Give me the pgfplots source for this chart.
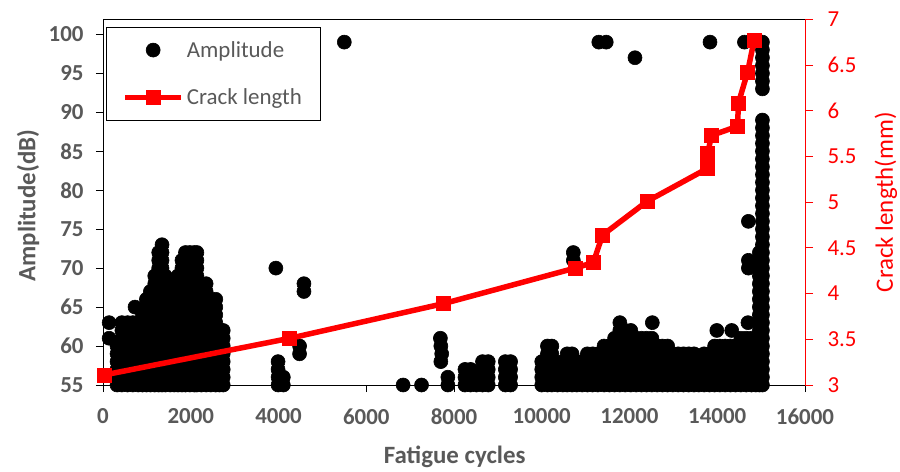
\documentclass[border=0pt]{standalone}
\usepackage{fontspec}
\setmainfont{Carlito}
\usepackage{pgfplots}
\pgfplotsset{compat=1.18}
\definecolor{txtgray}{RGB}{89,89,89}
\begin{document}
\begin{tikzpicture}
\begin{axis}[
  name=main,
  scale only axis, width=702bp, height=365.7bp,
  xmin=0, xmax=16000, ymin=55, ymax=101.93,
  xtick={0,2000,...,16000}, ytick={55,60,...,100},
  scaled x ticks=false,
  /pgf/number format/1000 sep={},
  /pgf/number format/assume math mode=true,
  tick align=outside, xtick pos=bottom, ytick pos=left,
  major tick length=7bp,
  tick style={black, line width=0.8bp},
  axis line style={black, line width=0.8bp},
  ticklabel style={font=\fontsize{23}{27}\selectfont\bfseries, text=txtgray},
  yticklabel style={xshift=-9bp},
  xticklabel style={yshift=-13bp},
  xlabel={Fatigue cycles}, ylabel={Amplitude(dB)},
  xlabel style={at={(axis description cs:0.501,-0.196)}, anchor=center, font=\fontsize{25}{30}\selectfont\bfseries, text=txtgray},
  ylabel style={at={(axis description cs:-0.1068,0.49)}, anchor=center, rotate=0, font=\fontsize{25}{30}\selectfont\bfseries, text=txtgray},
  clip=false,
  legend image code/.code={\draw[mark repeat=2,mark phase=2,#1] plot coordinates {(0bp,0bp)(28bp,0bp)(56bp,0bp)};},
  legend style={at={(0.0043,0.979)}, anchor=north west, draw=black, line width=0.8bp,
    font=\fontsize{23}{27}\selectfont, text=txtgray, inner xsep=16bp, inner ysep=12bp,
    row sep=26bp, nodes={inner xsep=3bp, inner ysep=2bp}},
  legend cell align=left,
]
\addplot[only marks, mark=*, mark size=7bp, black, mark options={line width=0.6bp}] coordinates {
(140,61)(140,63)
(320,55)(320,56)(320,57)(320,58)(320,59)(320,60)
(430,55)(430,56)(430,57)(430,58)(430,59)(430,60)(430,61)(430,62)(430,63)
(560,55)(560,56)(560,57)(560,58)(560,59)(560,60)(560,61)(560,62)(560,63)
(680,55)(680,56)(680,57)(680,58)(680,59)(680,60)(680,61)(680,62)(680,63)
(730,65)
(800,55)(800,56)(800,57)(800,58)(800,59)(800,60)(800,61)(800,62)(800,63)
(900,55)(900,56)(900,57)(900,58)(900,59)(900,60)(900,61)(900,62)(900,63)(900,64)
(990,55)(990,56)(990,57)(990,58)(990,59)(990,60)(990,61)(990,62)(990,63)(990,64)(990,65)(990,66)
(1080,55)(1080,56)(1080,57)(1080,58)(1080,59)(1080,60)(1080,61)(1080,62)(1080,63)(1080,64)(1080,65)(1080,66)(1080,67)
(1180,55)(1180,56)(1180,57)(1180,58)(1180,59)(1180,60)(1180,61)(1180,62)(1180,63)(1180,64)(1180,65)(1180,66)(1180,67)(1180,68)(1180,69)
(1270,55)(1270,56)(1270,57)(1270,58)(1270,59)(1270,60)(1270,61)(1270,62)(1270,63)(1270,64)(1270,65)(1270,66)(1270,67)(1270,68)(1270,69)(1270,70)(1270,71)(1270,72)
(1345,55)(1345,56)(1345,57)(1345,58)(1345,59)(1345,60)(1345,61)(1345,62)(1345,63)(1345,64)(1345,65)(1345,66)(1345,67)(1345,68)(1345,69)(1345,70)(1345,71)(1345,72)(1345,73)
(1420,55)(1420,56)(1420,57)(1420,58)(1420,59)(1420,60)(1420,61)(1420,62)(1420,63)(1420,64)(1420,65)(1420,66)(1420,67)(1420,68)(1420,69)
(1530,55)(1530,56)(1530,57)(1530,58)(1530,59)(1530,60)(1530,61)(1530,62)(1530,63)(1530,64)(1530,65)(1530,66)(1530,67)(1530,68)
(1620,55)(1620,56)(1620,57)(1620,58)(1620,59)(1620,60)(1620,61)(1620,62)(1620,63)(1620,64)(1620,65)(1620,66)(1620,67)(1620,68)
(1710,55)(1710,56)(1710,57)(1710,58)(1710,59)(1710,60)(1710,61)(1710,62)(1710,63)(1710,64)(1710,65)(1710,66)(1710,67)(1710,68)(1710,69)
(1800,55)(1800,56)(1800,57)(1800,58)(1800,59)(1800,60)(1800,61)(1800,62)(1800,63)(1800,64)(1800,65)(1800,66)(1800,67)(1800,68)(1800,69)(1800,70)(1800,71)
(1880,55)(1880,56)(1880,57)(1880,58)(1880,59)(1880,60)(1880,61)(1880,62)(1880,63)(1880,64)(1880,65)(1880,66)(1880,67)(1880,68)(1880,69)(1880,70)(1880,71)(1880,72)
(1980,55)(1980,56)(1980,57)(1980,58)(1980,59)(1980,60)(1980,61)(1980,62)(1980,63)(1980,64)(1980,65)(1980,66)(1980,67)(1980,68)(1980,69)(1980,70)(1980,71)(1980,72)
(2080,55)(2080,56)(2080,57)(2080,58)(2080,59)(2080,60)(2080,61)(2080,62)(2080,63)(2080,64)(2080,65)(2080,66)(2080,67)(2080,68)(2080,69)(2080,70)(2080,71)(2080,72)
(2140,55)(2140,56)(2140,57)(2140,58)(2140,59)(2140,60)(2140,61)(2140,62)(2140,63)(2140,64)(2140,65)(2140,66)(2140,67)(2140,68)(2140,69)(2140,70)(2140,71)(2140,72)
(2240,55)(2240,56)(2240,57)(2240,58)(2240,59)(2240,60)(2240,61)(2240,62)(2240,63)(2240,64)(2240,65)(2240,66)(2240,67)(2240,68)
(2350,55)(2350,56)(2350,57)(2350,58)(2350,59)(2350,60)(2350,61)(2350,62)(2350,63)(2350,64)(2350,65)(2350,66)(2350,67)(2350,68)
(2460,55)(2460,56)(2460,57)(2460,58)(2460,59)(2460,60)(2460,61)(2460,62)(2460,63)(2460,64)(2460,65)(2460,66)
(2570,55)(2570,56)(2570,57)(2570,58)(2570,59)(2570,60)(2570,61)(2570,62)(2570,63)(2570,64)(2570,65)(2570,66)
(2660,55)(2660,56)(2660,57)(2660,58)(2660,59)(2660,60)(2660,61)(2660,62)
(2740,55)(2740,56)(2740,57)(2740,58)(2740,59)(2740,60)(2740,61)(2740,62)
(3940,70)(3990,55)(3990,56)(3990,57)(3990,58)(4110,55)(4110,56)
(4480,59)(4480,60)(4580,67)(4580,68)
(5500,99)
(6840,55)(7260,55)
(7700,58)(7720,59)(7700,60)(7690,61)(7860,55)(7860,56)
(8250,55)(8250,56)(8250,57)(8380,55)(8380,56)(8380,57)(8510,55)(8510,56)
(8650,55)(8650,56)(8650,57)(8650,58)(8780,55)(8780,56)(8780,57)(8780,58)
(9170,55)(9170,56)(9170,57)(9170,58)(9290,55)(9290,56)(9290,57)(9290,58)
(10000,55)(10000,56)(10000,57)(10000,58)
(10130,55)(10130,56)(10130,57)(10130,58)(10130,59)(10130,60)
(10230,55)(10230,56)(10230,57)(10230,58)(10230,59)(10230,60)
(10360,55)(10360,56)(10360,57)
(10480,55)(10480,56)(10480,57)(10480,58)
(10580,55)(10580,56)(10580,57)(10580,58)(10580,59)
(10690,55)(10690,56)(10690,57)(10690,58)(10690,59)
(10800,55)(10800,56)(10800,57)(10800,58)
(10920,55)(10920,56)(10920,57)(10920,58)
(11040,55)(11040,56)(11040,57)(11040,58)(11040,59)
(11160,55)(11160,56)(11160,57)(11160,58)(11160,59)
(11280,55)(11280,56)(11280,57)(11280,58)(11280,59)
(11420,55)(11420,56)(11420,57)(11420,58)(11420,59)(11420,60)
(11540,55)(11540,56)(11540,57)(11540,58)(11540,59)(11540,60)
(11660,55)(11660,56)(11660,57)(11660,58)(11660,59)(11660,60)(11660,61)
(11780,55)(11780,56)(11780,57)(11780,58)(11780,59)(11780,60)(11780,61)(11780,62)(11780,63)
(11900,55)(11900,56)(11900,57)(11900,58)(11900,59)(11900,60)(11900,61)(11900,62)
(12030,55)(12030,56)(12030,57)(12030,58)(12030,59)(12030,60)(12030,61)(12030,62)
(12150,55)(12150,56)(12150,57)(12150,58)(12150,59)(12150,60)(12150,61)
(12270,55)(12270,56)(12270,57)(12270,58)(12270,59)(12270,60)(12270,61)
(12390,55)(12390,56)(12390,57)(12390,58)(12390,59)(12390,60)(12390,61)
(12510,55)(12510,56)(12510,57)(12510,58)(12510,59)(12510,60)(12510,61)
(12630,55)(12630,56)(12630,57)(12630,58)(12630,59)(12630,60)
(12750,55)(12750,56)(12750,57)(12750,58)(12750,59)(12750,60)
(12870,55)(12870,56)(12870,57)(12870,58)(12870,59)(12870,60)
(12990,55)(12990,56)(12990,57)(12990,58)(12990,59)
(13110,55)(13110,56)(13110,57)(13110,58)(13110,59)
(13230,55)(13230,56)(13230,57)(13230,58)(13230,59)
(13350,55)(13350,56)(13350,57)(13350,58)(13350,59)
(13470,55)(13470,56)(13470,57)(13470,58)(13470,59)
(13580,55)(13580,56)(13580,57)(13580,58)
(13700,55)(13700,56)(13700,57)(13700,58)(13700,59)
(13820,55)(13820,56)(13820,57)(13820,58)(13820,59)
(13940,55)(13940,56)(13940,57)(13940,58)(13940,59)(13940,60)
(14060,55)(14060,56)(14060,57)(14060,58)(14060,59)(14060,60)
(14180,55)(14180,56)(14180,57)(14180,58)(14180,59)(14180,60)
(14300,55)(14300,56)(14300,57)(14300,58)(14300,59)(14300,60)
(14420,55)(14420,56)(14420,57)(14420,58)(14420,59)(14420,60)
(14540,55)(14540,56)(14540,57)(14540,58)(14540,59)(14540,60)(14540,61)
(14660,55)(14660,56)(14660,57)(14660,58)(14660,59)(14660,60)(14660,61)
(14780,55)(14780,56)(14780,57)(14780,58)(14780,59)(14780,60)(14780,61)
(14880,55)(14880,56)(14880,57)(14880,58)(14880,59)(14880,60)(14880,61)
(14960,55)(14960,56)(14960,57)(14960,58)(14960,59)(14960,60)(14960,61)(14960,62)(14960,63)(14960,64)(14960,65)(14960,66)(14960,67)(14960,68)(14960,69)(14960,70)(14960,71)(14960,72)
(15030,55)(15030,56)(15030,57)(15030,58)(15030,59)(15030,60)(15030,61)(15030,62)(15030,63)(15030,64)(15030,65)(15030,66)(15030,67)(15030,68)(15030,69)(15030,70)(15030,71)(15030,72)
(15030,73)(15030,74)(15030,75)(15030,76)(15030,77)(15030,78)(15030,79)(15030,80)(15030,81)(15030,82)(15030,83)(15030,84)(15030,85)(15030,86)(15030,87)(15030,88)(15030,89)
(15030,93)(15030,94)(15030,95)(15030,96)(15030,97)(15030,98)(15030,99)
(12520,63)(13990,62)(14330,62)(14700,63)(10720,71)(10720,72)
(14710,70)(14710,71)(14710,76)
(11300,99)(11470,99)(12125,97)(13835,99)(14620,99)
};
\addlegendentry{Amplitude}
\addlegendimage{red, line width=5.5bp, mark=square*, mark size=7bp, mark options={line width=0.4bp}}
\addlegendentry{Crack length}
\end{axis}
\begin{axis}[
  scale only axis, width=702bp, height=365.7bp,
  xmin=0, xmax=16000, ymin=3, ymax=7,
  axis x line=none, axis y line*=right,
  ytick={3,3.5,...,7},
  /pgf/number format/assume math mode=true,
  tick align=outside, major tick length=8bp,
  ytick style={red, line width=0.8bp},
  y axis line style={red, line width=0.8bp, -},
  yticklabel style={font=\fontsize{23}{27}\selectfont, text=red, xshift=11bp},
  ylabel={Crack length(mm)},
  ylabel style={at={(axis description cs:1.1154,0.5)}, anchor=center, rotate=0, font=\fontsize{25}{30}\selectfont, text=red},
  clip=false,
]
\addplot[red, line width=5.5bp, mark=square*, mark size=7bp, mark options={line width=0.4bp}] coordinates {
(30,3.11)(4250,3.51)(7760,3.89)(10770,4.28)(11175,4.34)(11385,4.64)(12405,5.01)
(13780,5.37)(13780,5.45)(13780,5.53)(13870,5.73)(14465,5.83)(14480,6.08)(14690,6.42)(14840,6.77)
};
\end{axis}
\pgfresetboundingbox
\path[use as bounding box] ([xshift=-103bp,yshift=-87bp]main.south west) rectangle ([xshift=95bp,yshift=19.3bp]main.north east);
\end{tikzpicture}
\end{document}
